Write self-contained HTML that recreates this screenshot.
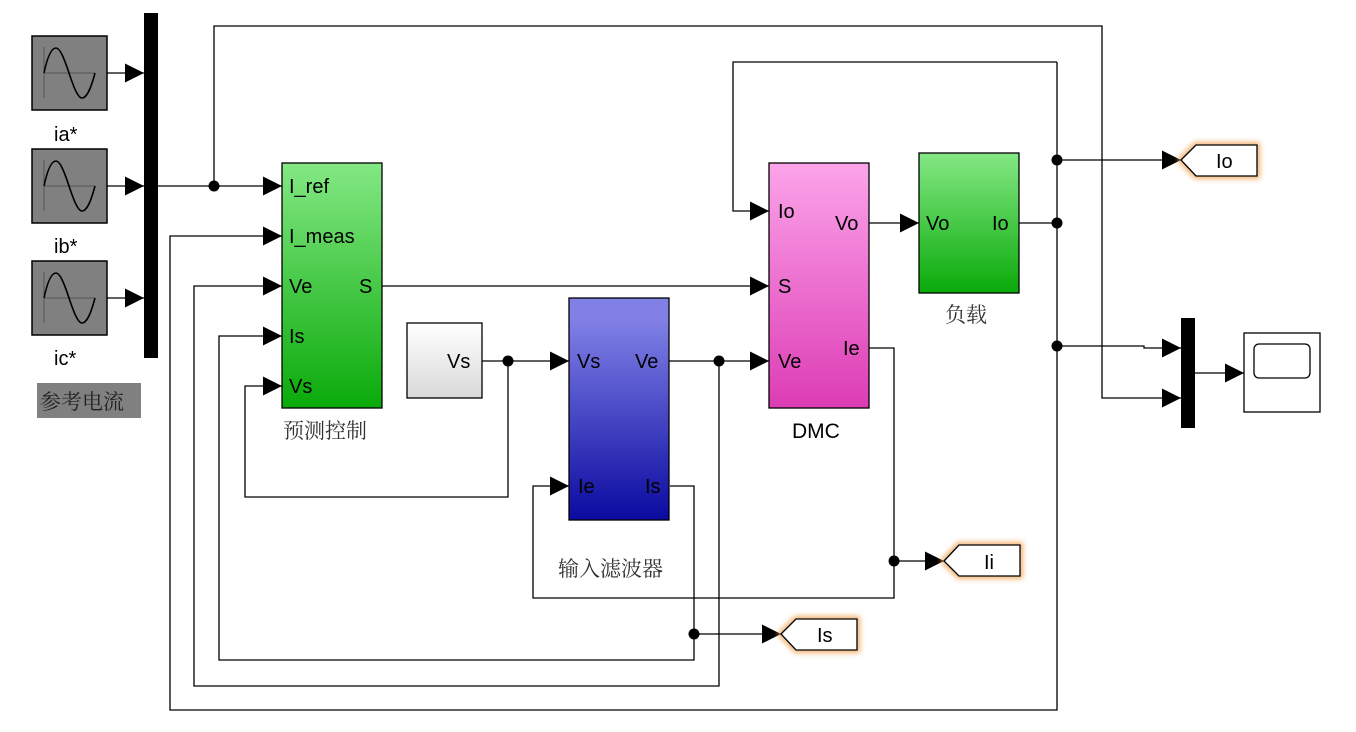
<!DOCTYPE html>
<html><head><meta charset="utf-8"><style>
html,body{margin:0;padding:0;background:#fff}
svg{display:block}
text{font-family:"Liberation Sans","Noto Sans CJK SC",sans-serif;font-size:20px;fill:#000}
.cn{font-family:"Noto Serif CJK SC","Noto Sans CJK SC",serif;font-size:21px;fill:#333}
</style></head><body>
<svg width="1356" height="732" viewBox="0 0 1356 732" xmlns="http://www.w3.org/2000/svg">
<defs>
<marker id="a" viewBox="0 0 10 10" refX="10" refY="5" markerWidth="19" markerHeight="19" markerUnits="userSpaceOnUse" orient="auto"><path d="M0,0L10,5L0,10z" fill="#000"/></marker>
<linearGradient id="g1" x1="0" y1="0" x2="0" y2="1"><stop offset="0" stop-color="#84e884"/><stop offset="1" stop-color="#0aaa0a"/></linearGradient>
<linearGradient id="g2" x1="0" y1="0" x2="0" y2="1"><stop offset="0.1" stop-color="#8080e6"/><stop offset="1" stop-color="#0a0aa0"/></linearGradient>
<linearGradient id="g3" x1="0" y1="0" x2="0" y2="1"><stop offset="0" stop-color="#fca4ea"/><stop offset="1" stop-color="#dc3cb4"/></linearGradient>
<linearGradient id="g4" x1="0" y1="0" x2="0" y2="1"><stop offset="0" stop-color="#ffffff"/><stop offset="1" stop-color="#d8d8d8"/></linearGradient>
<filter id="gl" x="-20%" y="-40%" width="140%" height="180%"><feGaussianBlur stdDeviation="3"/></filter>
<g id="sine"><rect x="0" y="0" width="75" height="74" fill="#808080" stroke="#000" stroke-width="1.5"/>
<path d="M12,11V62M12,37H63" stroke="#555" stroke-width="1" fill="none"/>
<path d="M12,37C16,18 20,12 24,12C28,12 32,22 37,37C42,52 46,62 50,62C54,62 58,56 63,37" stroke="#000" stroke-width="1.6" fill="none"/></g>
</defs>
<g stroke="#000" stroke-width="1.3" fill="none">
<path d="M107,73H144" marker-end="url(#a)"/>
<path d="M107,186H144" marker-end="url(#a)"/>
<path d="M107,298H144" marker-end="url(#a)"/>
<path d="M158,186H282" marker-end="url(#a)"/>
<path d="M214,186V26H1102V398H1181" marker-end="url(#a)"/>
<path d="M1057,62H733V211H769" marker-end="url(#a)"/>
<path d="M1057,62V710H170V236H282" marker-end="url(#a)"/>
<path d="M719,361V686H194V286H282" marker-end="url(#a)"/>
<path d="M670,486H694V660H219V336H282" marker-end="url(#a)"/>
<path d="M508,361V497H245V386H282" marker-end="url(#a)"/>
<path d="M382,286H769" marker-end="url(#a)"/>
<path d="M482,361H569" marker-end="url(#a)"/>
<path d="M669,361H769" marker-end="url(#a)"/>
<path d="M869,348H894V598H533V486H569" marker-end="url(#a)"/>
<path d="M894,561H944" marker-end="url(#a)"/>
<path d="M694,634H781" marker-end="url(#a)"/>
<path d="M869,223H919" marker-end="url(#a)"/>
<path d="M1019,223H1057"/>
<path d="M1057,160H1181" marker-end="url(#a)"/>
<path d="M1057,346H1144V348H1181" marker-end="url(#a)"/>
<path d="M1195,373H1244" marker-end="url(#a)"/>
</g>
<g fill="#000">
<circle cx="214" cy="186" r="5.5"/><circle cx="508" cy="361" r="5.5"/><circle cx="719" cy="361" r="5.5"/>
<circle cx="694" cy="634" r="5.5"/><circle cx="894" cy="561" r="5.5"/>
<circle cx="1057" cy="160" r="5.5"/><circle cx="1057" cy="223" r="5.5"/><circle cx="1057" cy="346" r="5.5"/>
<rect x="144" y="13" width="14" height="345"/>
<rect x="1181" y="318" width="14" height="110"/>
</g>
<use href="#sine" x="32" y="36"/><use href="#sine" x="32" y="149"/><use href="#sine" x="32" y="261"/>
<text x="54" y="141">ia*</text><text x="54" y="253">ib*</text><text x="54" y="365">ic*</text>
<rect x="37" y="383" width="104" height="35" fill="#808080"/>
<text x="40" y="409" class="cn" style="fill:#222">参考电流</text>
<rect x="282" y="163" width="100" height="245" fill="url(#g1)" stroke="#000" stroke-width="1.3"/>
<text x="289" y="193">I_ref</text><text x="289" y="243">I_meas</text><text x="289" y="293">Ve</text><text x="289" y="343">Is</text><text x="289" y="393">Vs</text>
<text x="359" y="293">S</text>
<text x="283" y="438" class="cn">预测控制</text>
<rect x="407" y="323" width="75" height="75" fill="url(#g4)" stroke="#000" stroke-width="1.3"/>
<text x="447" y="368">Vs</text>
<rect x="569" y="298" width="100" height="222" fill="url(#g2)" stroke="#000" stroke-width="1.3"/>
<text x="577" y="368">Vs</text><text x="635" y="368">Ve</text><text x="578" y="493">Ie</text><text x="645" y="493">Is</text>
<text x="558" y="576" class="cn">输入滤波器</text>
<rect x="769" y="163" width="100" height="245" fill="url(#g3)" stroke="#000" stroke-width="1.3"/>
<text x="778" y="218">Io</text><text x="778" y="293">S</text><text x="778" y="368">Ve</text>
<text x="835" y="230">Vo</text><text x="843" y="355">Ie</text>
<text x="792" y="438" style="font-size:21px">DMC</text>
<rect x="919" y="153" width="100" height="140" fill="url(#g1)" stroke="#000" stroke-width="1.3"/>
<text x="926" y="230">Vo</text><text x="992" y="230">Io</text>
<text x="945" y="322" class="cn">负载</text>
<g>
<path d="M1181,160L1196,145H1257V176H1196Z" fill="none" stroke="#f0a050" stroke-width="5" filter="url(#gl)"/>
<path d="M1181,160L1196,145H1257V176H1196Z" fill="#fff" stroke="#000" stroke-width="1.3"/>
<text x="1216" y="168">Io</text>
<path d="M944,561L959,545H1020V576H959Z" fill="none" stroke="#f0a050" stroke-width="5" filter="url(#gl)"/>
<path d="M944,561L959,545H1020V576H959Z" fill="#fff" stroke="#000" stroke-width="1.3"/>
<text x="984" y="569">Ii</text>
<path d="M781,634L796,619H857V650H796Z" fill="none" stroke="#f0a050" stroke-width="5" filter="url(#gl)"/>
<path d="M781,634L796,619H857V650H796Z" fill="#fff" stroke="#000" stroke-width="1.3"/>
<text x="817" y="642">Is</text>
</g>
<rect x="1244" y="333" width="76" height="79" fill="#fff" stroke="#000" stroke-width="1.3"/>
<rect x="1254" y="344" width="56" height="34" rx="5" fill="#fff" stroke="#000" stroke-width="1.3"/>
</svg>
</body></html>
